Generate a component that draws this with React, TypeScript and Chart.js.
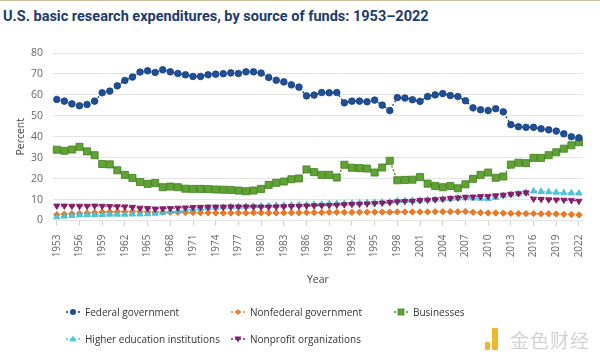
import React, { useEffect, useRef } from "react";
import { Chart, registerables } from "chart.js";

Chart.register(...registerables);

const years = [
  1953, 1954, 1955, 1956, 1957, 1958, 1959, 1960, 1961, 1962,
  1963, 1964, 1965, 1966, 1967, 1968, 1969, 1970, 1971, 1972,
  1973, 1974, 1975, 1976, 1977, 1978, 1979, 1980, 1981, 1982,
  1983, 1984, 1985, 1986, 1987, 1988, 1989, 1990, 1991, 1992,
  1993, 1994, 1995, 1996, 1997, 1998, 1999, 2000, 2001, 2002,
  2003, 2004, 2005, 2006, 2007, 2008, 2009, 2010, 2011, 2012,
  2013, 2014, 2015, 2016, 2017, 2018, 2019, 2020, 2021, 2022,
];

const tickYears = [
  1953, 1956, 1959, 1962, 1965, 1968, 1971, 1974, 1977, 1980, 1983, 1986,
  1989, 1992, 1995, 1998, 2001, 2004, 2007, 2010, 2013, 2016, 2019, 2022,
];

const federal = [
  57.8, 57.0, 55.7, 54.8, 55.4, 57.0, 61.0, 61.8, 64.3, 66.9,
  68.5, 70.9, 71.5, 70.7, 72.0, 71.0, 70.2, 69.6, 68.8, 68.8,
  69.6, 69.9, 70.1, 70.5, 70.2, 71.0, 71.0, 70.4, 68.3, 67.0,
  66.2, 64.8, 63.7, 59.5, 59.9, 61.1, 61.0, 61.1, 56.2, 57.0,
  57.0, 56.7, 57.5, 55.1, 52.5, 58.7, 58.5, 57.7, 56.9, 59.2,
  60.0, 60.6, 59.7, 59.2, 57.2, 53.8, 52.9, 52.5, 53.4, 51.9,
  45.8, 44.8, 44.5, 44.5, 43.8, 43.3, 42.7, 41.4, 40.0, 39.5,
];

const nonfederal = [
  2.8, 3.0, 3.2, 3.4, 3.6, 3.8, 4.0, 4.1, 4.2, 4.2,
  4.2, 4.2, 4.1, 4.0, 4.0, 3.9, 3.9, 3.8, 3.8, 3.7,
  3.7, 3.6, 3.6, 3.6, 3.6, 3.6, 3.7, 3.7, 3.6, 3.6,
  3.7, 3.7, 3.7, 3.8, 3.8, 3.8, 3.9, 3.9, 3.9, 3.9,
  4.0, 4.0, 4.0, 4.0, 4.0, 4.1, 4.1, 4.1, 4.1, 4.1,
  4.2, 4.2, 4.2, 4.2, 4.3, 3.9, 3.7, 3.6, 3.6, 3.5,
  3.4, 3.3, 3.3, 3.3, 3.2, 3.2, 3.1, 3.0, 2.9, 2.7,
];

const businesses = [
  33.8, 33.3, 33.9, 35.2, 33.0, 31.2, 27.0, 26.8, 24.0, 21.8,
  20.3, 18.4, 17.5, 17.9, 15.9, 16.2, 15.9, 15.2, 15.1, 15.1,
  15.0, 14.8, 14.7, 14.6, 14.3, 14.0, 14.3, 15.1, 17.0, 18.0,
  18.6, 19.7, 20.1, 24.4, 23.1, 21.8, 21.8, 20.5, 26.6, 25.2,
  25.0, 24.8, 22.9, 25.3, 28.5, 19.2, 19.4, 19.5, 20.7, 17.6,
  16.5, 15.9, 16.5, 15.4, 17.3, 19.9, 21.8, 22.9, 20.4, 21.0,
  26.7, 27.6, 27.4, 29.9, 29.9, 31.2, 32.6, 34.3, 35.9, 37.4,
];

const higherEd = [
  1.7, 2.0, 2.3, 2.6, 2.7, 2.8, 2.8, 2.9, 2.9, 2.9,
  3.0, 3.0, 3.1, 3.4, 3.8, 4.2, 4.6, 5.0, 5.4, 5.7,
  6.0, 6.2, 6.3, 6.5, 6.6, 6.7, 6.8, 6.9, 7.0, 7.1,
  7.2, 7.3, 7.4, 7.5, 7.6, 7.7, 7.9, 8.0, 8.1, 8.2,
  8.3, 8.5, 8.6, 8.7, 8.8, 9.3, 9.4, 9.5, 9.6, 9.8,
  10.0, 10.2, 10.4, 10.6, 10.8, 10.6, 10.5, 10.3, 11.0, 11.8,
  12.4, 12.7, 13.4, 14.0, 13.8, 13.6, 13.4, 13.2, 13.1, 13.0,
];

const nonprofit = [
  7.0, 7.0, 6.9, 6.9, 6.9, 7.0, 6.9, 6.8, 6.7, 6.6,
  6.4, 6.0, 5.8, 5.6, 5.7, 5.8, 6.0, 6.1, 6.3, 6.4,
  6.5, 6.5, 6.5, 6.6, 6.6, 6.6, 6.6, 6.5, 6.5, 6.6,
  6.7, 6.8, 6.9, 7.0, 7.1, 7.2, 7.3, 7.4, 7.6, 7.8,
  7.9, 8.0, 8.2, 8.4, 8.7, 9.0, 9.2, 9.3, 9.6, 9.8,
  10.0, 10.3, 10.6, 10.9, 11.2, 11.3, 11.5, 11.6, 11.9, 12.2,
  12.6, 12.9, 13.3, 10.3, 10.2, 10.0, 9.9, 9.8, 9.6, 9.3,
];

const seriesNames = [
  "Federal government",
  "Nonfederal government",
  "Businesses",
  "Higher education institutions",
  "Nonprofit organizations",
];

type Sty = {
  fill: string;
  edge: string;
  line: string;
  shape: string;
  radius: number;
  rotation: number;
};

const styles: Sty[] = [
  { fill: "#1f4f97", edge: "#173e7a", line: "#173a6e", shape: "circle", radius: 3.3, rotation: 0 },
  { fill: "#ea7a26", edge: "#d96a18", line: "#e8823a", shape: "rectRot", radius: 3.2, rotation: 0 },
  { fill: "#60a234", edge: "#3f7e1f", line: "#4f8a2a", shape: "rect", radius: 5, rotation: 0 },
  { fill: "#4fc7d8", edge: "#3ab6c8", line: "#4fc7d8", shape: "triangle", radius: 3.6, rotation: 0 },
  { fill: "#8c1c6d", edge: "#7a135d", line: "#8c1c6d", shape: "triangle", radius: 3.6, rotation: 180 },
];

const seriesData = [federal, nonfederal, businesses, higherEd, nonprofit];
const drawOrder = [1, 5, 2, 4, 3];

function LegendMark({ s }: { s: Sty }) {
  const cx = 7;
  const cy = 5;
  let shape: React.ReactNode = null;
  if (s.shape === "circle") shape = <circle cx={cx} cy={cy} r={3} fill={s.fill} />;
  if (s.shape === "rectRot")
    shape = <polygon points={`${cx},${cy - 3} ${cx + 3},${cy} ${cx},${cy + 3} ${cx - 3},${cy}`} fill={s.fill} />;
  if (s.shape === "rect") shape = <rect x={cx - 3} y={cy - 3} width={6} height={6} fill={s.fill} stroke={s.edge} strokeWidth={0.8} />;
  if (s.shape === "triangle" && s.rotation === 0)
    shape = <polygon points={`${cx},${cy - 3.5} ${cx + 3.5},${cy + 2.5} ${cx - 3.5},${cy + 2.5}`} fill={s.fill} />;
  if (s.shape === "triangle" && s.rotation === 180)
    shape = <polygon points={`${cx},${cy + 3.5} ${cx + 3.5},${cy - 2.5} ${cx - 3.5},${cy - 2.5}`} fill={s.fill} />;
  return (
    <svg width={14} height={10} style={{ display: "block" }}>
      <line x1={0} y1={cy} x2={14} y2={cy} stroke={s.line} strokeWidth={1.5} strokeDasharray="2 2" />
      {shape}
    </svg>
  );
}

export default function App() {
  const ref = useRef<HTMLCanvasElement>(null);

  useEffect(() => {
    const canvas = ref.current;
    if (!canvas) return;
    const datasets = seriesNames.map((name, i) => {
      const s = styles[i];
      return {
        label: name,
        data: seriesData[i],
        borderColor: s.line,
        borderWidth: 1.3,
        borderDash: [2, 2],
        backgroundColor: s.fill,
        pointBackgroundColor: s.fill,
        pointBorderColor: s.edge,
        pointBorderWidth: 0.8,
        pointStyle: s.shape as any,
        pointRotation: s.rotation,
        pointRadius: s.radius,
        tension: 0,
        fill: false,
        order: drawOrder[i],
      };
    });
    const chart = new Chart(canvas, {
      type: "line",
      data: { labels: years.map(String), datasets },
      options: {
        animation: false,
        responsive: false,
        maintainAspectRatio: false,
        devicePixelRatio: 1,
        layout: { padding: { top: 53, right: 1, bottom: 66.5, left: 0 } },
        plugins: {
          legend: { display: false },
          title: { display: false },
          tooltip: { enabled: false },
        },
        scales: {
          x: {
            type: "category",
            offset: true,
            grid: {
              display: true,
              drawOnChartArea: false,
              drawTicks: true,
              tickLength: 5,
              color: "#cfcfcf",
            },
            border: { display: false },
            ticks: {
              autoSkip: false,
              maxRotation: 90,
              minRotation: 90,
              padding: 9,
              color: "#666666",
              font: { family: "Open Sans", size: 10 },
              callback: (_v: any, idx: number) =>
                tickYears.includes(years[idx]) ? String(years[idx]) : null,
            },
            title: {
              display: true,
              text: "Year",
              color: "#444444",
              font: { family: "Open Sans", size: 10.5 },
              padding: { top: 0, bottom: 4.4 },
            },
            afterFit: (s: any) => {
              s.height = 70;
            },
          },
          y: {
            min: 0,
            max: 80,
            ticks: {
              stepSize: 10,
              padding: 10,
              color: "#666666",
              font: { family: "Open Sans", size: 10.5 },
            },
            grid: { color: "#e4e4e4", drawTicks: false, lineWidth: 1 },
            border: { display: false },
            title: {
              display: true,
              text: "Percent",
              color: "#444444",
              font: { family: "Open Sans", size: 10.5 },
              padding: { top: 15, bottom: 0 },
            },
            afterFit: (s: any) => {
              s.width = 53;
            },
          },
        },
      } as any,
    });
    return () => chart.destroy();
  }, []);

  const legendPos = [
    { x: 66, y: 312 },
    { x: 231, y: 312 },
    { x: 394, y: 312 },
    { x: 66, y: 339 },
    { x: 231, y: 339 },
  ];

  return (
    <div
      style={{
        position: "absolute",
        left: 0,
        top: 0,
        width: 600,
        height: 357,
        background: "#ffffff",
        overflow: "hidden",
      }}
    >
      <div style={{ position: "absolute", left: 0, top: 0, width: 600, height: 1, background: "#cbbf9f" }} />
      <div
        style={{
          position: "absolute",
          left: 3,
          top: 8,
          fontFamily: "Roboto, sans-serif",
          fontWeight: 700,
          fontSize: 14.5,
          color: "#1d3b6c",
          whiteSpace: "nowrap",
          lineHeight: "18px",
        }}
      >
        U.S. basic research expenditures, by source of funds: 1953–2022
      </div>
      <canvas ref={ref} width={600} height={357} style={{ position: "absolute", left: 0, top: 0, width: 600, height: 357 }} />
      {seriesNames.map((name, i) => (
        <div
          key={name}
          style={{
            position: "absolute",
            left: legendPos[i].x,
            top: legendPos[i].y - 8,
            height: 16,
            display: "flex",
            alignItems: "center",
            gap: 5,
            fontFamily: "'Open Sans', sans-serif",
            fontSize: 10,
            color: "#333333",
            whiteSpace: "nowrap",
          }}
        >
          <LegendMark s={styles[i]} />
          <span>{name}</span>
        </div>
      ))}
      <div
        style={{
          position: "absolute",
          left: 485,
          top: 328,
          width: 13,
          height: 22,
          display: "flex",
          alignItems: "flex-end",
          gap: 2,
        }}
      >
        <div style={{ width: 5, height: 8, background: "#f2b530", borderRadius: 1 }} />
        <div style={{ width: 6, height: 22, background: "#f2b530", borderRadius: 1 }} />
      </div>
      <div
        style={{
          position: "absolute",
          left: 510,
          top: 326,
          fontFamily: "'Noto Sans CJK SC', sans-serif",
          fontSize: 19,
          color: "#d2d2d2",
          letterSpacing: 1,
          whiteSpace: "nowrap",
        }}
      >
        金色财经
      </div>
    </div>
  );
}
